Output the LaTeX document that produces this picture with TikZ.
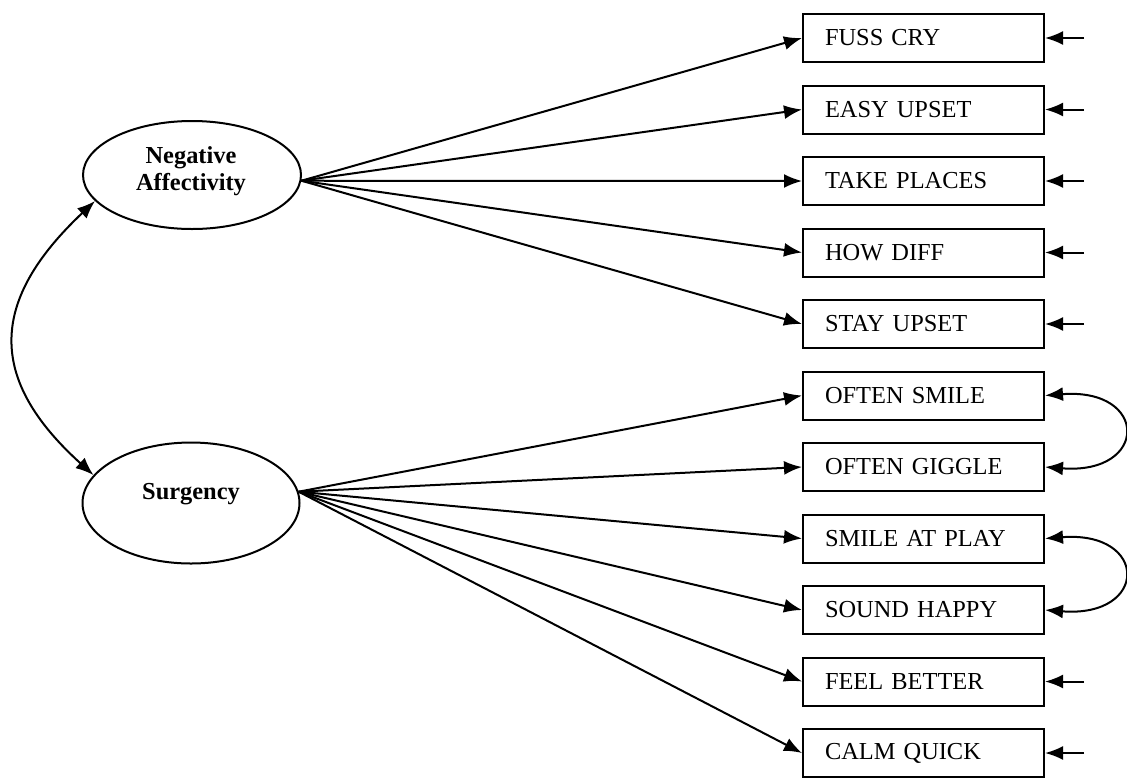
\documentclass[tikz,border=0pt]{standalone}
\usepackage{fontspec}
\setmainfont[WordSpace=0.8]{Liberation Serif}
\usetikzlibrary{shapes.geometric,arrows.meta}
\begin{document}
\begin{tikzpicture}[x=0.5pt,y=-0.5pt,
  item/.style={draw, line width=1pt, rectangle, minimum width=120.5pt,
    minimum height=24pt, text width=98.5pt, inner xsep=11pt, inner ysep=0pt,
    align=left, font=\fontsize{12.2}{14}\selectfont},
  factor/.style={draw, line width=1pt, ellipse, inner sep=0pt},
  flabel/.style={font=\fontsize{12.2}{13.5}\selectfont\bfseries, align=center, inner sep=0pt},
  tip/.tip={Latex[length=9pt,width=7pt]},
  arr/.style={line width=1pt, -tip},
  dbl/.style={line width=1pt, tip-tip}
]
\fill[white] (0,0) rectangle (1127,777);
\useasboundingbox (0,0) rectangle (1127,777);

% latent factors
\node[factor, minimum width=109pt, minimum height=54pt] (na) at (192,175) {};
\node[flabel] (natxt) at (191,171) {Negative\\Affectivity};
\node[factor, minimum width=108.5pt, minimum height=60.5pt] (sg) at (191,503) {};
\node[flabel] (sgtxt) at (191,494) {Surgency};

% indicators
\node[item] (b1)  at (923.5,38)    {FUSS CRY};
\node[item] (b2)  at (923.5,109.5) {EASY UPSET};
\node[item] (b3)  at (923.5,181)   {TAKE PLACES};
\node[item] (b4)  at (923.5,252.5) {HOW DIFF};
\node[item] (b5)  at (923.5,324)   {STAY UPSET};
\node[item] (b6)  at (923.5,395.5) {OFTEN SMILE};
\node[item] (b7)  at (923.5,467)   {OFTEN GIGGLE};
\node[item] (b8)  at (923.5,538.5) {SMILE AT PLAY};
\node[item] (b9)  at (923.5,610)   {SOUND HAPPY};
\node[item] (b10) at (923.5,681.5) {FEEL BETTER};
\node[item] (b11) at (923.5,753)   {CALM QUICK};

% factor loadings
\foreach \i in {1,...,5} \draw[arr] (na.-3) -- (b\i.west);
\foreach \i in {6,...,11} \draw[arr] (sg.6) -- (b\i.west);

% error terms
\foreach \i in {1,2,3,4,5,10,11} {
  \coordinate (e\i) at ([xshift=19.5pt]b\i.east);
  \draw[arr] (e\i) -- (b\i.east);
}

% correlated errors
\draw[dbl] (b6.east) .. controls +(104,-8) and +(104,8) .. (b7.east);
\draw[dbl] (b8.east) .. controls +(104,-8) and +(104,8) .. (b9.east);

% factor covariance
\draw[dbl] (na.195) .. controls (-10,300) and (-14,378) .. (sg.164);
\end{tikzpicture}
\end{document}
